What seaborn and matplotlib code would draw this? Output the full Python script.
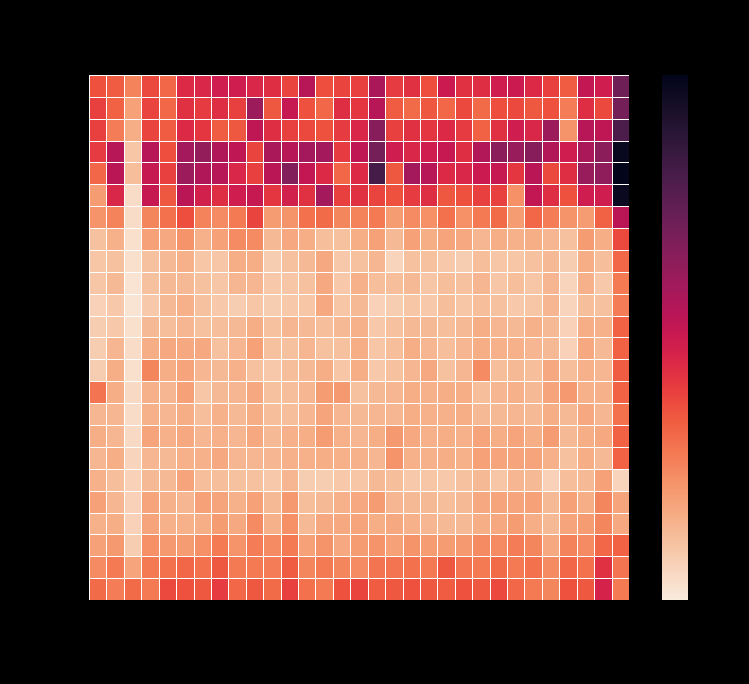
import numpy as np
import matplotlib
matplotlib.use("Agg")
import matplotlib.pyplot as plt
import seaborn as sns

# values, position on the colour scale (0-100)
row_00 = [36, 34, 26, 38, 32, 45, 46, 49, 49, 46, 44, 39, 55, 37, 39, 40, 58, 41, 43, 37, 50, 43, 44, 49, 50, 45, 40, 34, 52, 49, 72]
row_01 = [40, 33, 19, 39, 32, 43, 41, 44, 40, 61, 35, 51, 36, 32, 44, 42, 55, 34, 31, 35, 32, 38, 31, 37, 38, 35, 36, 27, 44, 38, 70]
row_02 = [40, 27, 16, 39, 34, 45, 42, 34, 35, 53, 44, 40, 38, 36, 41, 46, 66, 40, 43, 42, 45, 41, 33, 43, 49, 46, 61, 22, 55, 53, 80]
row_03 = [41, 55, 10, 55, 37, 59, 63, 57, 53, 39, 58, 55, 59, 59, 41, 53, 70, 49, 46, 49, 51, 44, 56, 65, 62, 66, 56, 49, 58, 65, 98]
row_04 = [32, 54, 12, 51, 40, 61, 57, 55, 46, 40, 54, 67, 52, 45, 32, 45, 82, 35, 59, 55, 45, 46, 50, 51, 42, 54, 38, 44, 62, 64, 100]
row_05 = [20, 46, 4, 51, 35, 54, 48, 44, 49, 51, 42, 48, 43, 59, 40, 43, 39, 36, 41, 44, 35, 36, 40, 40, 23, 52, 44, 36, 49, 49, 97]
row_06 = [22, 26, 4, 25, 30, 37, 26, 24, 28, 39, 20, 22, 30, 31, 25, 26, 28, 20, 24, 23, 30, 23, 28, 31, 20, 32, 27, 22, 20, 33, 54]
row_07 = [11, 15, 3, 19, 17, 22, 15, 19, 24, 24, 13, 17, 16, 12, 11, 16, 19, 13, 19, 16, 18, 17, 14, 16, 15, 16, 14, 11, 20, 16, 38]
row_08 = [10, 11, 3, 11, 13, 15, 10, 10, 16, 16, 8, 11, 13, 17, 9, 11, 14, 6, 11, 11, 9, 8, 12, 10, 10, 11, 13, 8, 16, 12, 32]
row_09 = [10, 13, 2, 11, 13, 13, 11, 10, 14, 14, 9, 10, 11, 17, 9, 15, 12, 12, 13, 10, 12, 11, 14, 10, 12, 10, 14, 6, 15, 9, 28]
row_10 = [7, 9, 2, 9, 13, 15, 11, 9, 8, 10, 8, 9, 10, 17, 10, 13, 7, 8, 10, 9, 12, 10, 12, 11, 9, 10, 14, 6, 12, 11, 27]
row_11 = [8, 9, 3, 13, 12, 14, 11, 12, 13, 16, 11, 14, 13, 12, 13, 15, 9, 11, 13, 13, 12, 13, 16, 14, 13, 15, 13, 7, 16, 15, 33]
row_12 = [8, 14, 4, 16, 17, 17, 17, 11, 14, 19, 11, 11, 14, 11, 11, 16, 10, 12, 16, 14, 12, 14, 16, 15, 15, 14, 13, 7, 17, 13, 33]
row_13 = [8, 16, 3, 25, 16, 18, 14, 13, 15, 11, 9, 12, 13, 16, 10, 16, 9, 11, 14, 17, 11, 14, 24, 12, 13, 12, 17, 12, 15, 14, 34]
row_14 = [29, 16, 5, 15, 14, 19, 10, 13, 14, 17, 11, 12, 14, 20, 21, 11, 13, 14, 16, 15, 16, 16, 12, 14, 15, 13, 18, 21, 15, 15, 33]
row_15 = [14, 14, 4, 15, 14, 16, 12, 15, 13, 16, 12, 12, 14, 18, 14, 13, 14, 14, 16, 15, 15, 16, 13, 13, 14, 13, 16, 13, 17, 14, 30]
row_16 = [16, 14, 5, 18, 15, 17, 14, 15, 14, 17, 13, 15, 16, 20, 15, 14, 16, 21, 17, 15, 16, 15, 18, 16, 18, 16, 20, 13, 16, 17, 33]
row_17 = [14, 16, 6, 14, 13, 15, 15, 17, 14, 14, 14, 15, 15, 16, 15, 15, 14, 22, 15, 15, 16, 15, 19, 18, 18, 18, 15, 11, 16, 13, 33]
row_18 = [15, 12, 7, 13, 13, 18, 12, 12, 11, 11, 9, 14, 8, 8, 9, 10, 13, 12, 9, 10, 9, 11, 13, 10, 14, 13, 7, 12, 13, 19, 6]
row_19 = [19, 14, 7, 18, 15, 14, 19, 18, 15, 19, 13, 21, 12, 13, 15, 17, 20, 14, 13, 13, 12, 13, 17, 18, 18, 19, 13, 19, 16, 25, 18]
row_20 = [15, 16, 7, 18, 15, 15, 16, 20, 17, 24, 15, 23, 13, 17, 17, 18, 16, 17, 15, 14, 13, 13, 16, 17, 20, 16, 13, 18, 20, 25, 17]
row_21 = [19, 21, 8, 23, 21, 20, 23, 28, 22, 27, 24, 28, 19, 22, 17, 20, 22, 19, 22, 20, 20, 21, 24, 24, 27, 25, 17, 26, 24, 32, 33]
row_22 = [24, 28, 18, 28, 30, 32, 30, 35, 28, 28, 27, 34, 25, 28, 25, 24, 29, 29, 30, 28, 35, 29, 28, 31, 28, 30, 24, 32, 30, 43, 29]
row_23 = [31, 27, 31, 28, 38, 36, 35, 41, 32, 35, 31, 40, 30, 28, 36, 39, 34, 35, 36, 35, 34, 36, 35, 38, 32, 28, 25, 36, 35, 47, 28]

rows = [row_00, row_01, row_02, row_03, row_04, row_05, row_06, row_07,
        row_08, row_09, row_10, row_11, row_12, row_13, row_14, row_15,
        row_16, row_17, row_18, row_19, row_20, row_21, row_22, row_23]
matrix = np.array(rows, dtype=float)

W, H = 749, 684
fig = plt.figure(figsize=(W / 100, H / 100), dpi=100, facecolor="black")
ax = fig.add_axes([89 / W, 1 - 600 / H, 540 / W, 525 / H])
cax = fig.add_axes([662 / W, 1 - 600 / H, 26 / W, 525 / H])

sns.heatmap(matrix, ax=ax, cbar_ax=cax, cmap="rocket_r", vmin=0, vmax=100,
            linewidths=0.4, linecolor="white", xticklabels=False, yticklabels=False)
cax.tick_params(left=False, right=False, labelright=False)

fig.savefig("out.png", dpi=100, facecolor="black")
